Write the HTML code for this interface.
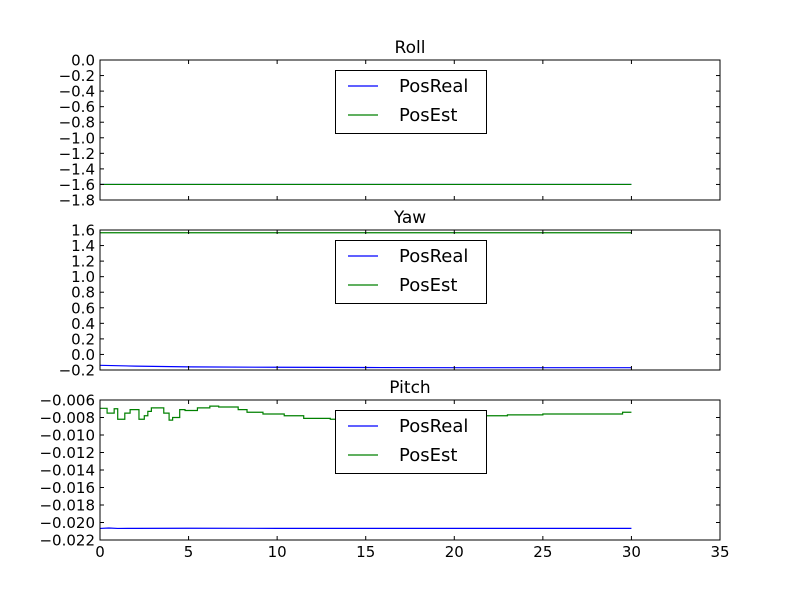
<!DOCTYPE html>
<html><head><meta charset="utf-8">
<style>
html,body{margin:0;padding:0;background:#fff;}
svg{display:block;font-family:"DejaVu Sans","Liberation Sans",sans-serif;}
</style></head>
<body>
<svg id="chart" width="800" height="600" viewBox="0 0 800 600" xmlns="http://www.w3.org/2000/svg"></svg>
<script>
const xTicks = [0,5,10,15,20,25,30,35];
const rollTicks = [0.0,-0.2,-0.4,-0.6,-0.8,-1.0,-1.2,-1.4,-1.6,-1.8];
const yawTicks = [1.6,1.4,1.2,1.0,0.8,0.6,0.4,0.2,0.0,-0.2];
const pitchTicks = [-0.006,-0.008,-0.010,-0.012,-0.014,-0.016,-0.018,-0.020,-0.022];
const rollRealT = [0,30];
const rollRealV = [-1.6,-1.6];
const rollEstT = [0,30];
const rollEstV = [-1.6,-1.6];
const yawRealT = [0,2,5,10,15,20,25,30];
const yawRealV = [-0.14,-0.15,-0.16,-0.165,-0.168,-0.17,-0.17,-0.17];
const yawEstT = [0,30];
const yawEstV = [1.565,1.565];
const pitchRealT = [0,0.5,1,2,5,10,15,20,25,30];
const pitchRealV = [-0.02068,-0.02063,-0.02068,-0.02067,-0.02066,-0.02067,-0.02067,-0.02067,-0.02067,-0.02067];
const pitchEstT = [0,0.4,0.8,1.0,1.4,1.7,2.2,2.5,2.7,2.9,3.6,3.9,4.1,4.5,4.8,5.5,6.2,6.7,7.8,8.3,9.2,10.4,11.5,13,15,18,21,23,25,27,29.5,30];
const pitchEstV = [-0.00695,-0.0075,-0.0070,-0.0082,-0.0075,-0.0071,-0.0082,-0.0078,-0.0073,-0.0069,-0.0075,-0.0083,-0.0080,-0.0071,-0.0072,-0.0069,-0.0067,-0.0068,-0.0071,-0.0074,-0.0076,-0.0078,-0.0081,-0.0082,-0.0082,-0.0080,-0.0078,-0.0077,-0.0076,-0.0076,-0.0074,-0.0074];

const NS="http://www.w3.org/2000/svg";
const svg=document.getElementById('chart');
function mk(tag,attrs,parent){const e=document.createElementNS(NS,tag);for(const k in attrs)e.setAttribute(k,attrs[k]);(parent||svg).appendChild(e);return e;}
const X0=100,X1=720,XMIN=0,XMAX=35;
const sx=v=>X0+(v-XMIN)/(XMAX-XMIN)*(X1-X0);

function panel(name,title,top,ticks,ymin,ymax,fmt,series,showX){
  const bot=top+140;
  const sy=v=>bot-(v-ymin)/(ymax-ymin)*140;
  const g=mk('g',{});
  
  
  const t=mk('text',{x:410,y:top-7,'text-anchor':'middle','font-size':'17'},g);
  t.textContent=title;
  
  
  series.forEach(s=>{
    const pts=[];
    for(let i=0;i<s.t.length;i++){
      if(s.step&&i>0)pts.push(sx(s.t[i]).toFixed(2)+','+sy(s.v[i-1]).toFixed(2));
      pts.push(sx(s.t[i]).toFixed(2)+','+sy(s.v[i]).toFixed(2));
    }
    const pl=mk('polyline',{points:pts.join(' '),fill:'none',stroke:s.c,'stroke-width':'1.2'},g);
    
    
  });
  const fr=mk('rect',{x:X0,y:top,width:X1-X0,height:140,fill:'none',stroke:'#000','stroke-width':'1'},g);
  
  
  ticks.forEach(v=>{
    const y=sy(v);
    mk('line',{x1:X0,x2:X0+4,y1:y,y2:y,stroke:'#000'},g);
    mk('line',{x1:X1,x2:X1-4,y1:y,y2:y,stroke:'#000'},g);
    const l=mk('text',{x:X0-5,y:y+5.5,'text-anchor':'end','font-size':'15'},g);
    l.textContent=fmt(v);
    
    
  });
  xTicks.forEach(v=>{
    const x=sx(v);
    mk('line',{x1:x,x2:x,y1:bot,y2:bot-4,stroke:'#000'},g);
    mk('line',{x1:x,x2:x,y1:top,y2:top+4,stroke:'#000'},g);
    if(showX){
      const l=mk('text',{x:x,y:bot+17,'text-anchor':'middle','font-size':'15'},g);
      l.textContent=String(v);
      
      
    }
  });
  const lg=mk('g',{},g);
  
  
  const ly=top+10;
  mk('rect',{x:335.5,y:ly+0.5,width:151,height:63,fill:'#fff',stroke:'#000'},lg);
  [['PosReal','#0000ff',16],['PosEst','#008000',45]].forEach(([lab,c,dy])=>{
    mk('line',{x1:348,x2:378,y1:ly+dy,y2:ly+dy,stroke:c,'stroke-width':'1.2'},lg);
    const tt=mk('text',{x:399,y:ly+dy+6,'font-size':'18'},lg);
    tt.textContent=lab;
    
    
  });
}
const m=v=>(v<0?'\u2212':'')+Math.abs(v).toFixed(1);
const m3=v=>(v<0?'\u2212':'')+Math.abs(v).toFixed(3);
panel('roll','Roll',60,rollTicks,-1.8,0,m,[
  {n:'posreal',t:rollRealT,v:rollRealV,c:'#0000ff'},
  {n:'posest',t:rollEstT,v:rollEstV,c:'#008000'}],false);
panel('yaw','Yaw',230,yawTicks,-0.2,1.6,m,[
  {n:'posreal',t:yawRealT,v:yawRealV,c:'#0000ff'},
  {n:'posest',t:yawEstT,v:yawEstV,c:'#008000'}],false);
panel('pitch','Pitch',400,pitchTicks,-0.022,-0.006,m3,[
  {n:'posreal',t:pitchRealT,v:pitchRealV,c:'#0000ff'},
  {n:'posest',t:pitchEstT,v:pitchEstV,c:'#008000',step:true}],true);
</script>
</body></html>
